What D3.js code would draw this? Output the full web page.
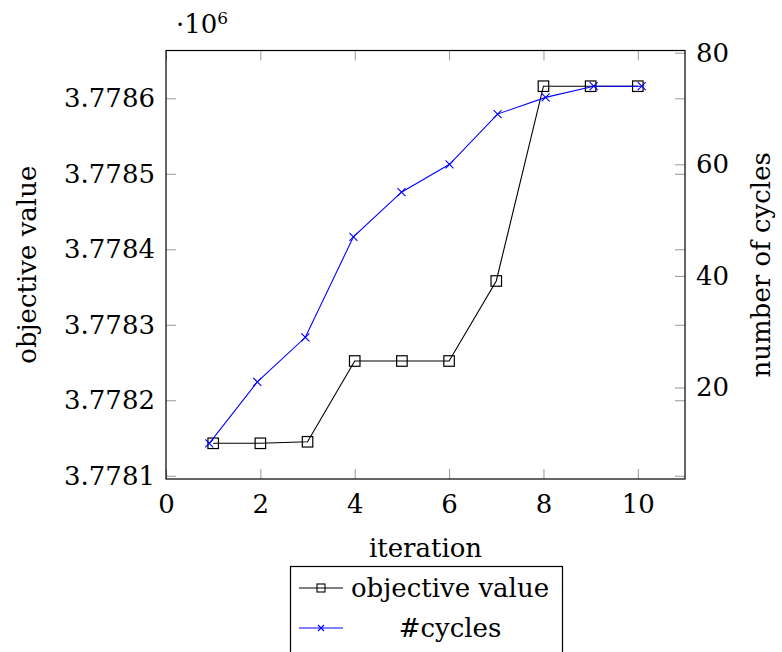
<!DOCTYPE html>
<html>
<head>
<meta charset="utf-8">
<script src="https://cdn.jsdelivr.net/npm/d3@7"></script>
<style>
body { margin: 0; background: #fff; }
text { font-family: "DejaVu Serif", serif; fill: #000; }
</style>
</head>
<body>
<div id="chart"></div>
<script>
var iterations = [1, 2, 3, 4, 5, 6, 7, 8, 9, 10];
var objectiveValues = [3778143, 3778143, 3778145, 3778252, 3778252, 3778252, 3778358, 3778616, 3778616, 3778616];
var cycleCounts = [10, 21, 29, 47, 55, 60, 69, 72, 74, 74];
var xTicks = [0, 2, 4, 6, 8, 10];
var objTicks = [3778100, 3778200, 3778300, 3778400, 3778500, 3778600];
var cycleTicks = [20, 40, 60, 80];
var seriesNames = ["objective value", "#cycles"];

var margin = {top: 50.5, right: 97, bottom: 173, left: 166};
var width = 782 - margin.left - margin.right,
	height = 652 - margin.top - margin.bottom;

// pgfplots style: 10% padding on each side of the data range
function enlarged(vals) {
	var ext = d3.extent(vals), pad = (ext[1] - ext[0]) * 0.1;
	return [ext[0] - pad, ext[1] + pad];
}

var xScale = d3.scaleLinear().domain([0, 11]).range([0, width]);
// the second axis did not fix xmin, so it got the padded range
var xScale2 = d3.scaleLinear().domain(enlarged(iterations)).range([0, width]);
var yObj = d3.scaleLinear().domain(enlarged(objectiveValues)).range([height, 0]);
var yCyc = d3.scaleLinear().domain(enlarged(cycleCounts)).range([height, 0]);

var svg = d3.select('#chart').append('svg')
	.attr('width', 782)
	.attr('height', 652);

var g = svg.append('g')
	.attr('transform', 'translate(' + margin.left + ',' + margin.top + ')');

function styleAxis(sel) {
	sel.select('.domain').remove();
	sel.selectAll('.tick line').attr('stroke', '#999').attr('stroke-width', 1);
	sel.selectAll('.tick text').style('font-size', '26px').attr('font-family', null);
}

// x ticks bottom + top
g.append('g')
	.attr('transform', 'translate(0,' + height + ')')
	.call(d3.axisBottom(xScale).tickValues(xTicks).tickSize(-10).tickSizeOuter(0).tickPadding(16))
	.call(styleAxis);
g.append('g')
	.call(d3.axisTop(xScale).tickValues(xTicks).tickSize(-10).tickSizeOuter(0).tickFormat(''))
	.call(styleAxis);

// left axis + mirrored ticks on the right
g.append('g')
	.call(d3.axisLeft(yObj).tickValues(objTicks).tickSize(-10).tickSizeOuter(0).tickPadding(11)
		.tickFormat(function(d){ return (d / 1e6).toFixed(4); }))
	.call(styleAxis);
g.append('g')
	.attr('transform', 'translate(' + width + ',0)')
	.call(d3.axisRight(yObj).tickValues(objTicks).tickSize(-10).tickSizeOuter(0).tickFormat(''))
	.call(styleAxis);

// right axis for cycles
g.append('g')
	.attr('transform', 'translate(' + width + ',0)')
	.call(d3.axisRight(yCyc).tickValues(cycleTicks).tickSize(-10).tickSizeOuter(0).tickPadding(11))
	.call(styleAxis);

// frame
g.append('rect')
	.attr('width', width)
	.attr('height', height)
	.attr('fill', 'none')
	.attr('stroke', '#000')
	.attr('stroke-width', 1.2);

// labels
g.append('text')
	.attr('x', width / 2)
	.attr('y', height + 69)
	.attr('text-anchor', 'middle')
	.attr('dominant-baseline', 'central')
	.style('font-size', '26px')
	.text('iteration');

g.append('text')
	.attr('transform', 'translate(' + (27 - margin.left) + ',' + (height / 2) + ') rotate(-90)')
	.attr('text-anchor', 'middle')
	.attr('dominant-baseline', 'central')
	.style('font-size', '26px')
	.text('objective value');

g.append('text')
	.attr('transform', 'translate(' + (761 - margin.left) + ',' + (height / 2) + ') rotate(-90)')
	.attr('text-anchor', 'middle')
	.attr('dominant-baseline', 'central')
	.style('font-size', '26px')
	.text('number of cycles');

var expo = svg.append('text')
	.attr('x', 176)
	.attr('y', 33)
	.style('font-size', '26px');
expo.append('tspan').text('\u00b710');
expo.append('tspan').attr('dy', -9).style('font-size', '17px').text('6');

// series
var objLine = d3.line()
	.x(function(d, i){ return xScale(iterations[i]); })
	.y(function(d){ return yObj(d); });
var cycLine = d3.line()
	.x(function(d, i){ return xScale2(iterations[i]); })
	.y(function(d){ return yCyc(d); });

var sq = 10.5, xs = 4;

g.append('path')
	.datum(objectiveValues)
	.attr('d', objLine)
	.attr('fill', 'none')
	.attr('stroke', '#000')
	.attr('stroke-width', 1.1);

g.selectAll('.sq')
	.data(objectiveValues)
	.enter().append('rect')
		.attr('class', 'sq')
		.attr('x', function(d, i){ return xScale(iterations[i]) - sq / 2; })
		.attr('y', function(d){ return yObj(d) - sq / 2; })
		.attr('width', sq)
		.attr('height', sq)
		.attr('fill', 'none')
		.attr('stroke', '#000')
		.attr('stroke-width', 1.2);

g.append('path')
	.datum(cycleCounts)
	.attr('d', cycLine)
	.attr('fill', 'none')
	.attr('stroke', '#0000ff')
	.attr('stroke-width', 1.1);

function crossPath(cx, cy, r) {
	return 'M' + (cx - r) + ',' + (cy - r) + 'L' + (cx + r) + ',' + (cy + r) +
		'M' + (cx - r) + ',' + (cy + r) + 'L' + (cx + r) + ',' + (cy - r);
}

g.selectAll('.cx')
	.data(cycleCounts)
	.enter().append('path')
		.attr('class', 'cx')
		.attr('d', function(d, i){ return crossPath(xScale2(iterations[i]), yCyc(d), xs); })
		.attr('stroke', '#0000ff')
		.attr('stroke-width', 1.1);

// legend
var lg = svg.append('g');
lg.append('rect')
	.attr('x', 290.5)
	.attr('y', 566.5)
	.attr('width', 272)
	.attr('height', 92)
	.attr('fill', '#fff')
	.attr('stroke', '#000')
	.attr('stroke-width', 1.2);

var rows = [
	{name: seriesNames[0], color: '#000', mark: 'square', y: 588},
	{name: seriesNames[1], color: '#0000ff', mark: 'cross', y: 628}
];

rows.forEach(function(r){
	lg.append('line')
		.attr('x1', 299).attr('x2', 343)
		.attr('y1', r.y).attr('y2', r.y)
		.attr('stroke', r.color)
		.attr('stroke-width', 1.1);
	if (r.mark === 'square') {
		lg.append('rect')
			.attr('x', 321 - 4).attr('y', r.y - 4)
			.attr('width', 8).attr('height', 8)
			.attr('fill', 'none')
			.attr('stroke', r.color)
			.attr('stroke-width', 1.1);
	} else {
		lg.append('path')
			.attr('d', crossPath(321, r.y, 3))
			.attr('stroke', r.color)
			.attr('stroke-width', 1.1);
	}
	lg.append('text')
		.attr('x', 450)
		.attr('y', r.y)
		.attr('text-anchor', 'middle')
		.attr('dominant-baseline', 'central')
		.style('font-size', '26px')
		.text(r.name);
});
</script>
</body>
</html>
